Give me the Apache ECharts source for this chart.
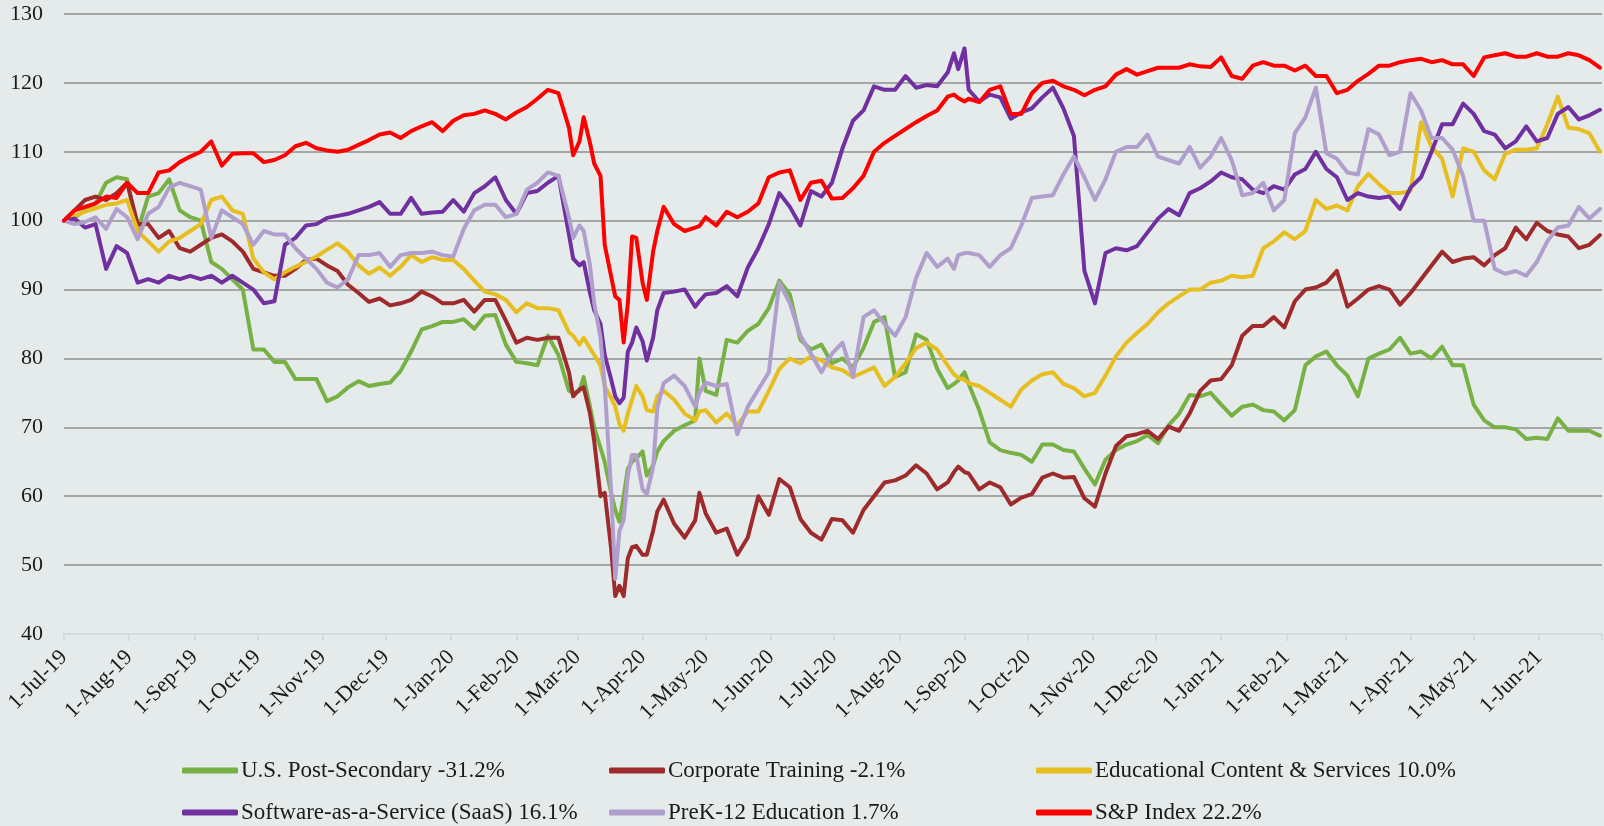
<!DOCTYPE html>
<html><head><meta charset="utf-8">
<script src="https://cdn.jsdelivr.net/npm/echarts@6/dist/echarts.min.js"></script>
<style>html,body{margin:0;padding:0;background:#E5EBEB;}#c{width:1604px;height:826px;}</style>
</head><body><div id="c"></div>
<script>
const dates = [
'2019-07-01','2019-07-06','2019-07-11','2019-07-16','2019-07-21','2019-07-26','2019-07-31','2019-08-05','2019-08-10','2019-08-15',
'2019-08-20','2019-08-25','2019-08-30','2019-09-04','2019-09-09','2019-09-14','2019-09-19','2019-09-24','2019-09-29','2019-10-04',
'2019-10-09','2019-10-14','2019-10-19','2019-10-24','2019-10-29','2019-11-03','2019-11-08','2019-11-13','2019-11-18','2019-11-23',
'2019-11-28','2019-12-03','2019-12-08','2019-12-13','2019-12-18','2019-12-23','2019-12-28','2020-01-02','2020-01-07','2020-01-12',
'2020-01-17','2020-01-22','2020-01-27','2020-02-01','2020-02-06','2020-02-11','2020-02-16','2020-02-21',
'2020-02-26','2020-02-28','2020-03-02','2020-03-04','2020-03-07','2020-03-09','2020-03-12','2020-03-14','2020-03-17','2020-03-19',
'2020-03-21','2020-03-23','2020-03-25','2020-03-27','2020-03-29','2020-04-01','2020-04-03','2020-04-06','2020-04-08','2020-04-11',
'2020-04-16','2020-04-21','2020-04-26','2020-04-28','2020-05-01',
'2020-05-06','2020-05-11','2020-05-16','2020-05-21','2020-05-26','2020-05-31','2020-06-05','2020-06-10','2020-06-15','2020-06-20',
'2020-06-25','2020-06-30','2020-07-05','2020-07-10','2020-07-15','2020-07-20','2020-07-25','2020-07-30','2020-08-04','2020-08-09',
'2020-08-14','2020-08-19','2020-08-24',
'2020-08-27','2020-08-29','2020-09-01',
'2020-09-03','2020-09-08','2020-09-13','2020-09-18','2020-09-23','2020-09-28','2020-10-03','2020-10-08','2020-10-13','2020-10-18',
'2020-10-23','2020-10-28','2020-11-02','2020-11-07','2020-11-12','2020-11-17','2020-11-22','2020-11-27','2020-12-02','2020-12-07',
'2020-12-12','2020-12-17','2020-12-22','2020-12-27','2021-01-01','2021-01-06','2021-01-11','2021-01-16','2021-01-21','2021-01-26',
'2021-01-31','2021-02-05','2021-02-10','2021-02-15','2021-02-20','2021-02-25','2021-03-02','2021-03-07','2021-03-12','2021-03-17',
'2021-03-22','2021-03-27','2021-04-01','2021-04-06','2021-04-11','2021-04-16','2021-04-21','2021-04-26','2021-05-01','2021-05-06',
'2021-05-11','2021-05-16','2021-05-21','2021-05-26','2021-05-31','2021-06-05','2021-06-10','2021-06-15','2021-06-20','2021-06-25',
'2021-06-30'
];

const usPostSecondary = [
100,100.5,101.5,102.5,105.5,106.3,106,98.5,103.5,104,
106,101.5,100.5,100,94,93,91.5,90,81.3,81.3,
79.5,79.5,77,77,77,73.8,74.5,75.8,76.7,76,
76.3,76.5,78.2,81,84.2,84.7,85.3,85.3,85.7,84.3,
86.2,86.3,82,79.5,79.3,79,83.3,80.5,
75.3,75,75.3,77.3,73,70,67,65,60.5,58,
56.3,60,64,65,65.5,66.5,63,64.5,66.5,68,
69.5,70.3,71,80,75.3,
74.7,82.7,82.3,84,85,87.3,91.3,89.3,82.7,81.3,
82,79.3,80,78.7,81.5,85.3,86,77.3,78,83.5,
82.7,78.5,75.7,
76.3,76.8,78,
76.3,72.5,67.8,66.7,66.3,66,65,67.5,67.5,66.7,
66.5,64,61.7,65.3,66.7,67.5,68,68.9,67.7,70.3,
72,74.7,74.5,75,73.3,71.7,73,73.3,72.5,72.3,
71,72.5,79,80.3,81,79,77.5,74.5,80,80.7,
81.3,83,80.7,81,80,81.7,79,79,73.3,71,
70,70,69.7,68.3,68.5,68.3,71.3,69.5,69.5,69.5,
68.8
];

const corporateTraining = [
100,101.5,103,103.5,103,104,105.5,99.5,99.5,97.5,
98.5,96,95.5,96.5,97.5,98,97,95.5,93,92.5,
92,92,93,94.3,94.5,93.5,92.7,90.7,89.5,88.2,
88.7,87.7,88,88.5,89.7,89,88,88,88.5,86.8,
88.5,88.5,85.5,82.3,83,82.7,83,83,
78,74.5,75.5,75.8,72,68,60,60.5,52.5,45.5,
47,45.5,51,52.6,52.8,51.5,51.5,55,57.8,59.5,
56,54,56.5,60.5,57.5,
54.7,55.3,51.5,54,60,57.3,62.5,61.3,56.7,54.7,
53.7,56.7,56.5,54.7,58,60,62,62.3,63,64.5,
63.3,61,62,
63.5,64.3,63.5,
63.3,61,62,61.3,58.8,59.8,60.3,62.7,63.3,62.7,
62.8,59.7,58.5,63.3,67.3,68.7,69,69.5,68.3,70.1,
69.5,72,75.3,76.8,77,79,83.3,84.7,84.7,86,
84.5,88.3,90,90.3,91,92.7,87.5,88.7,90,90.5,
90,87.8,89.5,91.5,93.5,95.5,94,94.5,94.7,93.5,
95,96,99,97.3,99.7,98.5,98,97.7,96,96.5,
97.9
];

const educationalContent = [
100,100.7,101.3,101.8,102.3,102.5,103,98.5,97,95.5,
97,97.5,98.5,99.5,103,103.5,101.5,101,94.5,92.5,
91.5,92.5,93.3,94,94.8,95.8,96.7,95.5,93.5,92.3,
93.2,92,93.3,95,94,94.7,94.3,94.3,93,91.3,
89.7,89.3,88.5,86.7,88,87.3,87.3,87,
83.8,83.3,82,83,81.5,80.5,79,76,74.3,73,
70.5,69.5,72,74,76,74.5,72.5,72.3,74.5,75.3,
74,72,71,72.3,72.5,
70.7,72,70.3,72.3,72.3,75.3,78.5,80,79.3,80.3,
79.7,78.7,78.3,77.3,78,78.7,76,77.3,79.3,81.5,
82.3,81.3,79,
77.7,77.2,76.9,
76.4,76,75,74,73,75.5,76.8,77.7,78,76.3,
75.7,74.5,75,77.5,80.3,82.3,83.7,85,86.7,88,
89,90,90,91,91.3,92,91.8,92,96,97,
98.3,97.3,98.5,103,101.7,102.2,101.5,105,106.8,105.3,
104,104,104.3,114.3,110.7,109,103.5,110.5,110,107.3,
106,109.7,110.3,110.3,110.5,114,118,113.5,113.3,112.7,
110
];

const saas = [
100,100.3,99,99.5,93,96.3,95.3,91,91.5,91,
92,91.5,92,91.5,92,91,92,91,90,88,
88.3,96.5,97.5,99.3,99.5,100.4,100.7,101,101.5,102,
102.7,101,101,103.3,101,101.2,101.3,103,101.3,104,
105,106.3,103,101,104,104.3,105.5,106.5,
98,94.5,93.5,94,89.5,87,85,80.5,77,74.5,
73.5,74.3,81,82.3,84.5,82.5,79.7,83,87,89.5,
89.7,90,87.5,88.3,89.3,
89.5,90.5,89,93.2,96,99.5,104,102,99.3,104.3,
103.5,105.5,110.5,114.5,116,119.5,119,119,121,119.3,
119.7,119.5,121.5,
124.3,122,125,
119,117.3,118.3,117.9,114.8,115.7,116.3,117.9,119.3,116.3,
112.3,92.7,88,95.3,96,95.7,96.3,98.3,100.3,101.7,
100.8,104,104.7,105.7,107,106.3,106,104.5,104,105,
104.5,106.7,107.5,110,107.5,106.3,103,104,103.5,103.3,
103.5,101.7,104.8,106.3,110,114,114,117,115.5,113,
112.5,110.5,111.5,113.7,111.5,112,115.5,116.5,114.7,115.3,
116.1
];

const preK12 = [
100,99.5,99.8,100.5,98.8,101.7,100.5,97.3,101,102,
104.8,105.5,105,104.5,97.5,101.5,100.5,99.5,96.5,98.5,
98,98,96,94.5,93,91,90.3,91.5,95,95,
95.3,93.3,95,95.3,95.3,95.5,95,94.8,98.8,101.5,
102.3,102.3,100.5,101,104.5,105.5,107,106.5,
100.5,97.5,99.3,98.5,93.5,88,83,76,61,48,
55,56.5,63,66,66,61,60.3,64.2,72.8,76.4,
77.5,76,73,75,76.5,
76,76.3,69,73,75.5,78,91,88,83.3,80.7,
78,80.7,82.3,77.3,86,87,85,83.3,86,91.7,
95.3,93.3,94.5,
93,95,95.3,
95.3,95,93.3,95,96,99.3,103.3,103.5,103.7,106.7,
109.3,106.3,103,106,110,110.7,110.7,112.5,109.3,108.8,
108.3,110.7,107.7,109.3,112,108.8,103.7,104,105.5,101.5,
103,112.7,115,119.3,109.8,109,107,106.7,113.3,112.5,
109.5,110,118.5,116,112,112,110.3,106.5,100,100,
93,92.3,92.7,92,94,97,99,99.3,102,100.3,
101.7
];

const spIndex = [
100,101.5,102,102.5,103.5,103.3,105.5,104,104,107,
107.3,108.5,109.3,110,111.5,108,109.7,109.8,109.8,108.5,
108.8,109.5,110.8,111.3,110.5,110.2,110,110.3,111,111.7,
112.5,112.8,112,113,113.7,114.3,113,114.5,115.3,115.5,
116,115.5,114.7,115.7,116.5,117.7,119,118.5,
113.5,109.5,111.5,115,111.3,108.3,106.5,96.5,92,89,
88.5,82.3,88,97.7,97.5,91,88.5,95.5,98.5,102,
99.5,98.5,99,99.2,100.5,
99.3,101.3,100.5,101.3,102.5,106.3,107,107.3,103,105.5,
105.8,103.2,103.3,104.7,106.5,110,111.3,112.3,113.3,114.3,
115.2,116,118,
118.3,117.8,117.3,
117.7,117.2,119,119.5,115.5,115.5,118.5,120,120.3,119.5,
119,118.2,119,119.5,121.2,122,121.2,121.7,122.2,122.2,
122.2,122.7,122.4,122.3,123.7,121,120.6,122.5,123,122.5,
122.5,121.8,122.5,121,121,118.5,119,120.3,121.3,122.5,
122.5,123,123.3,123.5,123,123.3,122.7,122.7,121,123.7,
124,124.3,123.8,123.8,124.3,123.8,123.8,124.3,124,123.3,
122.2
];

const seriesNames = [
'U.S. Post-Secondary -31.2%','Corporate Training -2.1%','Educational Content & Services 10.0%',
'Software-as-a-Service (SaaS) 16.1%','PreK-12 Education 1.7%','S&P Index 22.2%'
];
const seriesColors = ['#77B043','#9E2A2B','#E6BE1F','#7030A0','#B09FCC','#FF0000'];
const seriesValues = [usPostSecondary, corporateTraining, educationalContent, saas, preK12, spIndex];

const tickLabels = ['1-Jul-19','1-Aug-19','1-Sep-19','1-Oct-19','1-Nov-19','1-Dec-19','1-Jan-20','1-Feb-20','1-Mar-20','1-Apr-20','1-May-20','1-Jun-20',
'1-Jul-20','1-Aug-20','1-Sep-20','1-Oct-20','1-Nov-20','1-Dec-20','1-Jan-21','1-Feb-21','1-Mar-21','1-Apr-21','1-May-21','1-Jun-21'];
const axisEnd = '2021-07-01';

const MONTHS = {Jan:0,Feb:1,Mar:2,Apr:3,May:4,Jun:5,Jul:6,Aug:7,Sep:8,Oct:9,Nov:10,Dec:11};
const START = Date.UTC(2019,6,1);
function dayOfIso(s){const p=s.split('-').map(Number);return Math.round((Date.UTC(p[0],p[1]-1,p[2])-START)/86400000);}
function dayOfLabel(s){const p=s.split('-');return Math.round((Date.UTC(2000+Number(p[2]),MONTHS[p[1]],Number(p[0]))-START)/86400000);}
const xs = dates.map(dayOfIso);
const labelPos = tickLabels.map(dayOfLabel);
const endPos = dayOfIso(axisEnd);
const tickPos = labelPos.concat([endPos]);
const labelMap = {}; labelPos.forEach((p,i)=>labelMap[p]=tickLabels[i]);

const FONT = '"Liberation Serif", "DejaVu Serif", serif';
const chart = echarts.init(document.getElementById('c'), null, {renderer:'canvas'});

const legends = [];
const legPos = [[182,759],[609,759],[1036,759],[182,801],[609,801],[1036,801]];
seriesNames.forEach((n,i)=>{
  legends.push({data:[n], left:legPos[i][0], top:legPos[i][1], padding:0, icon:'roundRect',
    itemWidth:56, itemHeight:6, selectedMode:false,
    textStyle:{fontFamily:FONT, fontSize:23, color:'#1a1a1a', padding:[0,0,0,-2]}});
});

const splitColors = ['#d5dbdb','#8f8f8f','#8f8f8f','#8f8f8f','#8f8f8f','#8f8f8f','#8f8f8f','#8f8f8f','#8f8f8f','#8f8f8f'];

chart.setOption({
  backgroundColor:'#E5EBEB',
  animation:false,
  grid:{left:64, right:2, top:14, bottom:192, containLabel:false, outerBoundsMode:'none'},
  legend:legends,
  xAxis:{type:'value', min:0, max:endPos,
    splitLine:{show:false},
    axisLine:{show:true, lineStyle:{color:'#d5dbdb', width:1.5}},
    axisTick:{show:true, customValues:tickPos, length:7, lineStyle:{color:'#d0d6d6', width:1.5}},
    axisLabel:{customValues:labelPos, rotate:45, margin:20, fontFamily:FONT, fontSize:22, color:'#1a1a1a',
      formatter:(v)=>labelMap[Math.round(v)]||''}
  },
  yAxis:{type:'value', min:40, max:130, interval:10,
    axisLine:{show:false}, axisTick:{show:false},
    axisLabel:{margin:21, fontFamily:FONT, fontSize:22, color:'#1a1a1a'},
    splitLine:{show:true, lineStyle:{color:splitColors, width:1.6}}
  },
  series: seriesNames.map((n,i)=>({
    name:n, type:'line', showSymbol:false, symbol:'none', smooth:false, clip:true,
    color:seriesColors[i],
    lineStyle:{color:seriesColors[i], width:4, join:'round', cap:'round'},
    data: xs.map((x,j)=>[x, seriesValues[i][j]])
  }))
});
</script>
</body></html>
